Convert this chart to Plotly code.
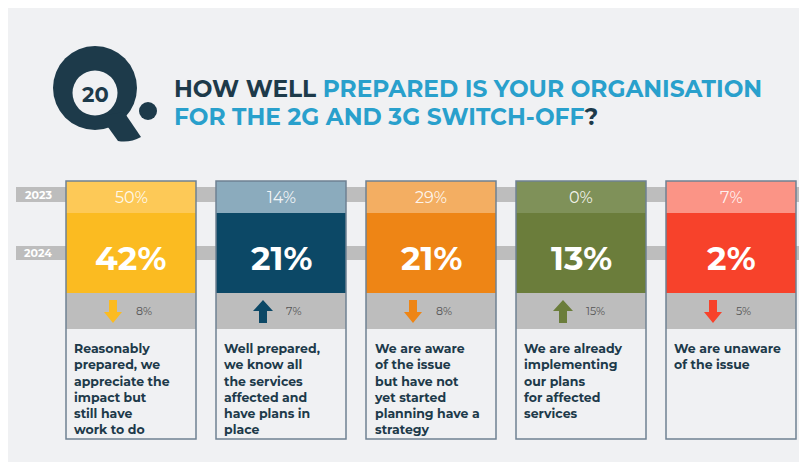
import plotly.graph_objects as go

# ---------------- data ----------------
years = ["2023", "2024"]
values_2023 = [50, 14, 29, 0, 7]
values_2024 = [42, 21, 21, 13, 2]
change = [8, 7, 8, 15, 5]
direction = ["down", "up", "down", "up", "down"]
descriptions = [
    ["Reasonably", "prepared, we", "appreciate the", "impact but", "still have", "work to do"],
    ["Well prepared,", "we know all", "the services", "affected and", "have plans in", "place"],
    ["We are aware", "of the issue", "but have not", "yet started", "planning have a", "strategy"],
    ["We are already", "implementing", "our plans", "for affected", "services"],
    ["We are unaware", "of the issue"],
]
question_no = "20"
title_line1 = [("HOW WELL ", "dark"), ("PREPARED IS YOUR ORGANISATION", "blue")]
title_line2 = [("FOR THE 2G AND 3G SWITCH-OFF", "blue"), ("?", "dark")]

# ---------------- styles ----------------
PAGE_W, PAGE_H, BODY = 807, 462, 8   # browser window and default body margin
W, H = PAGE_W - BODY, PAGE_H - BODY
BG = "#f0f1f3"
DARK = "#1d3a4a"
BLUE = "#29a0cc"
BAND = "#bdbdbd"
BORDER = "#6f8193"
light_cols = ["#fdc957", "#8babbd", "#f3ae62", "#7f9159", "#fb9486"]
main_cols = ["#fbbb21", "#0c4866", "#ee8515", "#6b7d3b", "#f7422b"]
FONT = "Montserrat, 'DejaVu Sans', sans-serif"

box_x0, box_step, box_w = 66, 150, 130
top, split, mid, low, bottom = 181, 213, 293, 329, 439

shapes = []
annotations = []

# background
shapes.append(dict(type="rect", x0=0, y0=0, x1=PAGE_W + 5, y1=PAGE_H + 5, fillcolor=BG, line_width=0, layer="below"))

# year bands
band_rows = [(187, 202), (246, 260)]
for (y0, y1), yr in zip(band_rows, years):
    shapes.append(dict(type="rect", x0=16, x1=800, y0=y0, y1=y1, fillcolor=BAND, line_width=0, layer="below"))
    annotations.append(dict(x=38, y=(y0 + y1) / 2, text=f"<b>{yr}</b>", showarrow=False,
                            font=dict(family=FONT, size=11, color="white"), xanchor="center", yanchor="middle"))

# Q logo
cx, cy, r = 95, 88, 42
shapes.append(dict(type="circle", x0=cx - r, x1=cx + r, y0=cy - r, y1=cy + r, fillcolor=DARK, line_width=0))
shapes.append(dict(type="path", path="M 100 116 L 124 112 L 141 137 Q 130 143 118 141 Z", fillcolor=DARK, line_width=0))
ir = 22.5
shapes.append(dict(type="circle", x0=cx - ir, x1=cx + ir, y0=93 - ir, y1=93 + ir, fillcolor=BG, line_width=0))
shapes.append(dict(type="circle", x0=139, x1=157, y0=102, y1=120, fillcolor=DARK, line_width=0))
annotations.append(dict(x=cx, y=94, text=f"<b>{question_no}</b>", showarrow=False,
                        font=dict(family=FONT, size=21, color=DARK), xanchor="center", yanchor="middle"))

def rich(parts):
    return "".join(f"<span style='color:{DARK if c == 'dark' else BLUE}'>{t}</span>" for t, c in parts)

annotations.append(dict(x=172, y=88, text="<b>" + rich(title_line1) + "</b>", showarrow=False,
                        font=dict(family=FONT, size=23.3, color=BLUE), xanchor="left", yanchor="middle"))
annotations.append(dict(x=172, y=116, text="<b>" + rich(title_line2) + "</b>", showarrow=False,
                        font=dict(family=FONT, size=23.3, color=BLUE), xanchor="left", yanchor="middle"))

# boxes
for i in range(len(values_2024)):
    x0 = box_x0 + box_step * i
    x1 = x0 + box_w
    xc = (x0 + x1) / 2
    shapes.append(dict(type="rect", x0=x0, x1=x1, y0=top, y1=split, fillcolor=light_cols[i], line_width=0))
    shapes.append(dict(type="rect", x0=x0, x1=x1, y0=split, y1=mid, fillcolor=main_cols[i], line_width=0))
    shapes.append(dict(type="rect", x0=x0, x1=x1, y0=mid, y1=low, fillcolor=BAND, line_width=0))
    shapes.append(dict(type="rect", x0=x0, x1=x1, y0=top, y1=bottom, fillcolor="rgba(0,0,0,0)",
                       line=dict(color=BORDER, width=1.5)))
    annotations.append(dict(x=xc, y=(top + split) / 2, text=f"{values_2023[i]}%", showarrow=False,
                            font=dict(family=FONT, size=16, color="rgba(255,255,255,0.9)"),
                            xanchor="center", yanchor="middle"))
    annotations.append(dict(x=xc, y=(split + mid) / 2 + 5, text=f"<b>{values_2024[i]}%</b>", showarrow=False,
                            font=dict(family=FONT, size=33, color="white"), xanchor="center", yanchor="middle"))
    # arrow
    ax = x0 + 47
    if direction[i] == "down":
        p = (f"M {ax-4} 300 L {ax+4} 300 L {ax+4} 312 L {ax+9} 312 L {ax} 323 "
             f"L {ax-9} 312 L {ax-4} 312 Z")
    else:
        p = (f"M {ax-4} 323 L {ax+4} 323 L {ax+4} 311 L {ax+10} 311 L {ax} 300 "
             f"L {ax-10} 311 L {ax-4} 311 Z")
    shapes.append(dict(type="path", path=p, fillcolor=main_cols[i], line_width=0))
    annotations.append(dict(x=x0 + 68, y=(mid + low) / 2, text=f"{change[i]}%", showarrow=False,
                            font=dict(family=FONT, size=11, color="#555555"), xanchor="left", yanchor="middle"))
    annotations.append(dict(x=x0 + 6, y=339, text="<b>" + "<br>".join(descriptions[i]) + "</b>",
                            showarrow=False, align="left",
                            font=dict(family=FONT, size=12.5, color=DARK), xanchor="left", yanchor="top"))

fig = go.Figure()
fig.update_layout(
    width=W, height=H, margin=dict(l=0, r=0, t=0, b=0),
    paper_bgcolor=BG, plot_bgcolor=BG,
    xaxis=dict(range=[BODY, PAGE_W], visible=False, fixedrange=True),
    yaxis=dict(range=[PAGE_H, BODY], visible=False, fixedrange=True),
    shapes=shapes, annotations=annotations, showlegend=False,
)
fig.write_html("out.html")
